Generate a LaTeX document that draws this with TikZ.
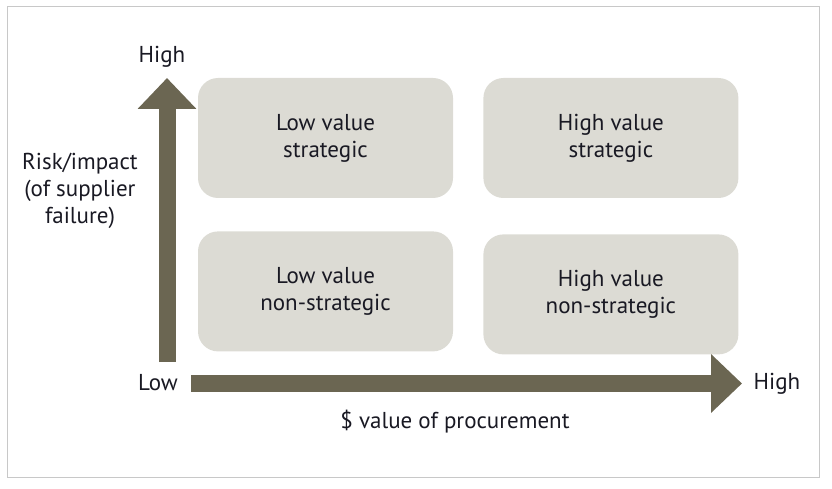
\documentclass[tikz,border=0pt]{standalone}
\usepackage{fontspec}
\setmainfont{PT Sans}
\usetikzlibrary{positioning}
\usetikzlibrary{arrows.meta}
\definecolor{figCaja}{RGB}{220,219,212}
\definecolor{figFlecha}{RGB}{107,102,82}
\definecolor{figMarco}{RGB}{200,200,200}
\definecolor{figTexto}{RGB}{25,25,35}
\tikzset{
  caja/.style={
    rectangle, rounded corners=20pt, fill=figCaja,
    minimum width=255pt, minimum height=120pt,
    align=center, text=figTexto, font=\fontsize{23}{27}\selectfont, inner sep=0pt
  },
  etiqueta/.style={
    align=center, text=figTexto, font=\fontsize{23}{27}\selectfont, inner sep=0pt
  },
  eje/.style={draw=figFlecha, line width=17pt, -{Triangle[width=57pt,length=31pt]}},
  marco/.style={draw=figMarco, line width=1pt}
}

\begin{document}
\begin{tikzpicture}[x=1pt, y=-1pt, node distance=33pt and 30pt]
  \useasboundingbox (0,0) rectangle (832,489);
  \draw[marco] (7,7) rectangle (819,477);

  % cuadrantes
  \node[caja] at (325.5,138) (lvs) {Low value\\strategic};
  \node[caja, right=of lvs] (hvs) {High value\\strategic};
  \node[caja, below=of lvs] (lvn) {Low value\\non-strategic};
  \node[caja, below=36pt of hvs] (hvn) {High value\\non-strategic};

  % ejes
  \node[etiqueta] at (162,57) (yalto) {High};
  \node[etiqueta] at (158,383) (bajo) {Low};
  \node[etiqueta] at (777,384) (xalto) {High};
  \node[etiqueta] at (80,191) (yeti) {Risk/impact\\(of supplier\\failure)};
  \node[etiqueta] at (455,422) (xeti) {\$ value of procurement};
  \coordinate (yini) at (167,362);
  \coordinate (yfin) at (167,78);
  \coordinate (xini) at (191,383.5);
  \coordinate (xfin) at (742,383.5);
  \draw[eje] (yini) -- (yfin);
  \draw[eje] (xini) -- (xfin);
\end{tikzpicture}
\end{document}
